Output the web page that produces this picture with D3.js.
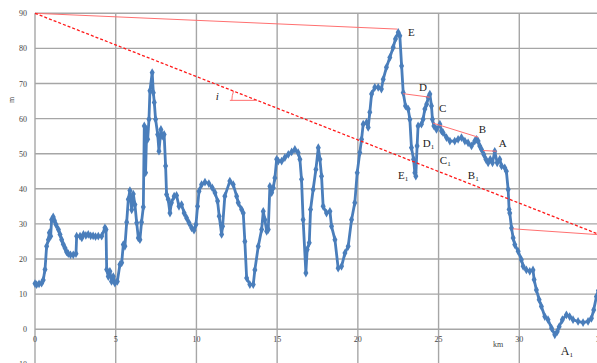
<!DOCTYPE html>
<html>
<head>
<meta charset="utf-8">
<script src="https://cdn.jsdelivr.net/npm/d3@7"></script>
<style>
  body { margin: 0; background: #fff; }
  svg { display: block; }
</style>
</head>
<body>
<figure id="profile" style="margin:0"></figure>
<script>
// elevation profile, km vs m
const distKm = [0,0.1,0.25,0.41,0.51,0.62,0.72,0.83,0.89,0.97,1.03,1.13,1.2,1.3,1.45,1.55,1.65,1.75,1.86,1.96,2.06,2.2,2.37,2.54,2.58,2.79,2.9,3.0,3.15,3.3,3.45,3.6,3.75,3.92,4.13,4.33,4.4,4.44,4.54,4.64,4.74,4.85,4.95,5.1,5.26,5.37,5.47,5.57,5.68,5.78,5.88,5.99,6.09,6.19,6.3,6.4,6.5,6.6,6.71,6.77,6.85,6.92,6.98,7.06,7.12,7.26,7.33,7.39,7.47,7.6,7.68,7.8,7.88,8.0,8.09,8.15,8.25,8.36,8.45,8.62,8.77,8.92,9.08,9.24,9.39,9.54,9.7,9.85,9.97,10.07,10.16,10.32,10.53,10.77,10.98,11.15,11.31,11.41,11.56,11.62,11.76,12.07,12.28,12.49,12.59,12.8,12.9,13.0,13.11,13.31,13.52,13.62,13.83,14.04,14.14,14.24,14.35,14.45,14.55,14.66,14.76,14.86,14.97,15.07,15.28,15.48,15.69,15.9,16.1,16.3,16.41,16.51,16.61,16.78,16.86,16.99,17.07,17.23,17.4,17.55,17.65,17.75,17.85,18.06,18.27,18.37,18.58,18.78,18.99,19.2,19.4,19.61,19.81,19.96,20.12,20.23,20.33,20.54,20.64,20.74,20.85,21.05,21.26,21.46,21.57,21.77,21.98,22.19,22.33,22.5,22.6,22.71,22.81,22.95,23.12,23.22,23.32,23.45,23.53,23.59,23.67,23.73,23.94,24.04,24.15,24.26,24.36,24.46,24.56,24.62,24.71,24.87,25.08,25.18,25.28,25.49,25.7,26.0,26.21,26.42,26.63,26.83,27.04,27.24,27.35,27.45,27.55,27.66,27.8,27.93,28.07,28.2,28.34,28.48,28.63,28.79,28.9,29.1,29.2,29.31,29.37,29.41,29.52,29.62,29.72,29.93,30.13,30.24,30.44,30.65,30.85,30.92,31.06,31.23,31.37,31.58,31.78,32.0,32.2,32.35,32.47,32.67,32.92,33.12,33.33,33.64,33.95,34.26,34.47,34.61,34.78,34.9];
const elevM = [13,12.7,12.9,13.1,14,17,23.6,25.5,27.5,26.5,31.2,32,31,29.8,28.4,27,25.5,24.2,23.1,22,21.5,21.2,21.2,21.5,26.5,26.5,26,27,26.7,27,26.6,26.6,26.4,26.5,26.5,28.9,28.4,17,15,16.5,13.6,15,13.1,13.6,18.4,18.9,24.1,23.6,30.5,37,39.5,34,38.5,35.5,30.3,26,25.5,30.5,34.8,57.9,44.6,56.9,54.1,59.8,67.9,73.1,67.4,64.6,59.8,55.5,50.7,56.9,55,55.5,46.5,38.4,37,33.1,36,37.9,38.1,35,35.5,33.1,31.7,30.3,28.9,28.2,29.8,35,39.3,41.2,41.9,41.5,40.3,38.9,36.5,32.2,27,29.3,37.9,42.2,41.2,37.9,36,34.1,33.1,25,14.6,12.7,12.7,16.9,23.6,28.4,33.6,31.2,27.9,28.4,40.7,38.9,40.3,43.1,48.4,47.9,47.9,48.9,49.8,50.5,51.2,50.3,48.4,42.7,31.2,16,22.7,24.6,34.1,39.8,45.5,51.7,48.4,43.6,35,33.1,33.6,29.3,25.5,17.4,17.9,21.7,23.6,31.2,36,44.6,50.3,54.1,58.4,58.9,57.5,61.8,67,68.9,68.9,68.4,71.2,74.6,77.4,80.3,82.7,84.6,83.6,75,67.4,63.6,62.7,59.8,51.7,48.4,44.6,43.6,52.2,57.9,58.4,59.8,62.7,64.1,66,67,63.6,59.8,57.9,56.9,58.4,56.5,56,54.6,53.6,53.6,54.1,54.6,53.6,53.1,52.2,53.6,54.1,53.6,52.2,51.2,49.8,48.4,47.4,48.4,47.4,50.7,47.4,48.4,46.5,46,45,39.8,34.1,33.1,28.8,26,24.1,22.2,19.8,17.9,16.9,16.5,16.9,14.1,11.2,8.4,6.5,3.6,2.7,0.3,-1.6,-0.7,0.7,2.7,4.1,3.6,2.7,2.2,1.9,2.2,3.1,5.5,9.3,11];

const xTicks = [0, 5, 10, 15, 20, 25, 30, 35];
const yTicks = [-10, 0, 10, 20, 30, 40, 50, 60, 70, 80, 90];

// red construction lines (km, m)
const slopeLine = [[0, 90], [35, 26.9]];
const solidLines = [
  [[0, 90], [22.45, 85.5]],
  [[22.8, 67.1], [24.45, 66.1]],
  [[24.66, 58.7], [27.45, 54.7]],
  [[27.76, 50.9], [28.59, 50.7]],
  [[29.6, 28.6], [35, 26.9]]
];
const angleVertex = [13.76, 65.2];
const angleStart = 12.07;

// point names
const pointNames = ["E", "D", "C", "B", "A", "D", "C", "E", "B", "A"];
const pointSubs  = ["", "", "", "", "", "1", "1", "1", "1", "1"];
const pointKm    = [23.1, 23.78, 25.02, 27.49, 28.73, 24.02, 25.08, 22.48, 26.81, 32.57];
const pointM     = [83.5, 67.9, 61.8, 55.8, 51.8, 51.8, 47, 42.7, 42.7, -7.3];

const width = 597, height = 363;

const x = d3.scaleLinear().domain([0, 35]).range([35, 600]);
const y = d3.scaleLinear().domain([-10, 90]).range([364.3, 13.3]);

const svg = d3.select("figure#profile")
  .append("svg")
  .attr("width", width)
  .attr("height", height)
  .style("font-family", "'Liberation Serif', 'DejaVu Serif', serif");

// grid
svg.append("g")
  .selectAll("line")
  .data(yTicks)
  .enter()
  .append("line")
  .attr("x1", x(0)).attr("x2", width)
  .attr("y1", d => y(d)).attr("y2", d => y(d))
  .attr("stroke", "#a6a6a6")
  .attr("stroke-width", 1.4);

svg.append("g")
  .selectAll("line")
  .data(xTicks)
  .enter()
  .append("line")
  .attr("x1", d => x(d)).attr("x2", d => x(d))
  .attr("y1", y(90)).attr("y2", height)
  .attr("stroke", "#a6a6a6")
  .attr("stroke-width", 1.4);

// tick labels
svg.append("g")
  .selectAll("text")
  .data(yTicks)
  .enter()
  .append("text")
  .attr("x", 27)
  .attr("y", d => y(d) + 3)
  .attr("text-anchor", "end")
  .attr("font-size", 8)
  .attr("fill", "#444")
  .text(d => d);

svg.append("g")
  .selectAll("text")
  .data(xTicks)
  .enter()
  .append("text")
  .attr("x", d => x(d))
  .attr("y", y(0) + 13)
  .attr("text-anchor", "middle")
  .attr("font-size", 8)
  .attr("fill", "#444")
  .text(d => d);

svg.append("text")
  .attr("transform", "translate(14," + 100 + ") rotate(-90)")
  .attr("text-anchor", "middle")
  .attr("font-size", 8)
  .attr("fill", "#444")
  .text("m");

svg.append("text")
  .attr("x", 498)
  .attr("y", 347)
  .attr("text-anchor", "middle")
  .attr("font-size", 8)
  .attr("fill", "#444")
  .text("km");

// profile line
const profile = distKm.map((d, i) => [d, elevM[i]]);
const line = d3.line().x(d => x(d[0])).y(d => y(d[1]));

svg.append("path")
  .datum(profile)
  .attr("d", line)
  .attr("fill", "none")
  .attr("stroke", "#4a7ebb")
  .attr("stroke-width", 2.8)
  .attr("stroke-linejoin", "round");

svg.append("g")
  .selectAll("path")
  .data(profile)
  .enter()
  .append("path")
  .attr("d", d3.symbol().type(d3.symbolDiamond).size(22))
  .attr("transform", d => "translate(" + x(d[0]) + "," + y(d[1]) + ")")
  .attr("fill", "#4a7ebb");

// red lines
svg.append("g")
  .selectAll("path")
  .data(solidLines)
  .enter()
  .append("path")
  .attr("d", line)
  .attr("fill", "none")
  .attr("stroke", "#ff7070")
  .attr("stroke-width", 1);

svg.append("path")
  .datum(slopeLine)
  .attr("d", line)
  .attr("fill", "none")
  .attr("stroke", "#ff1a1a")
  .attr("stroke-width", 1.3)
  .attr("stroke-dasharray", "3,2");

// slope angle i
const vx = x(angleVertex[0]), vy = y(angleVertex[1]);
const r = vx - x(angleStart) - 2;
const ang = Math.atan((y(slopeLine[1][1]) - y(slopeLine[0][1])) / (x(slopeLine[1][0]) - x(slopeLine[0][0])));
svg.append("path")
  .attr("d", d3.line()([[x(angleStart), vy], [vx, vy]]))
  .attr("stroke", "#ff7070")
  .attr("stroke-width", 1);
svg.append("path")
  .attr("d", "M" + (vx - r) + "," + vy + " A" + r + "," + r + " 0 0 1 " + (vx - r * Math.cos(ang)) + "," + (vy - r * Math.sin(ang)))
  .attr("fill", "none")
  .attr("stroke", "#ff7070")
  .attr("stroke-width", 1);
svg.append("text")
  .attr("x", x(angleStart) - 14)
  .attr("y", vy)
  .attr("font-size", 11)
  .attr("font-style", "italic")
  .attr("fill", "#222")
  .text("i");

// point labels
const labels = svg.append("g")
  .selectAll("text")
  .data(pointNames)
  .enter()
  .append("text")
  .attr("x", (d, i) => x(pointKm[i]))
  .attr("y", (d, i) => y(pointM[i]))
  .attr("font-size", (d, i) => i === 9 ? 12 : 11)
  .attr("fill", "#222");
labels.append("tspan").text(d => d);
labels.append("tspan")
  .attr("dy", 2)
  .attr("font-size", 7)
  .text((d, i) => pointSubs[i]);
</script>
</body>
</html>
